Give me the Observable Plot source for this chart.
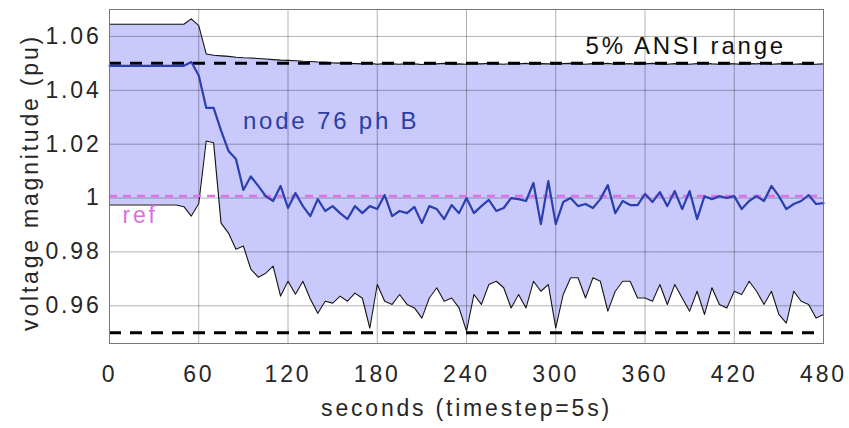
<!DOCTYPE html>
<html><head><meta charset="utf-8">
<script src="https://cdn.jsdelivr.net/npm/d3@7"></script>
<script src="https://cdn.jsdelivr.net/npm/@observablehq/plot@0.6"></script>
<style>
html,body{margin:0;padding:0;background:#fff;}
#chart svg text{letter-spacing:2.8px;}
</style></head><body><div id="chart"></div>
<script>
const stepSeconds = 5;
// one row per minute (12 samples of 5 s), final value at t = 480 s
const upper = [
  1.0645,1.0645,1.0645,1.0645,1.0645,1.0645,1.0645,1.0645,1.0645,1.0645,1.0645,1.0665,
  1.0640,1.0535,1.0530,1.0528,1.0526,1.0523,1.0521,1.0520,1.0518,1.0516,1.0514,1.0512,
  1.0511,1.0510,1.0508,1.0507,1.0505,1.0504,1.0502,1.0501,1.0500,1.0499,1.0498,1.0500,
  1.0497,1.0499,1.0498,1.0497,1.0499,1.0498,1.0496,1.0499,1.0498,1.0500,1.0497,1.0498,
  1.0497,1.0499,1.0498,1.0500,1.0498,1.0497,1.0499,1.0498,1.0500,1.0497,1.0499,1.0498,
  1.0497,1.0499,1.0500,1.0498,1.0497,1.0499,1.0498,1.0500,1.0497,1.0498,1.0499,1.0497,
  1.0498,1.0500,1.0498,1.0497,1.0499,1.0498,1.0497,1.0499,1.0500,1.0498,1.0497,1.0499,
  1.0498,1.0497,1.0499,1.0498,1.0500,1.0497,1.0498,1.0499,1.0497,1.0498,1.0496,1.0497,
  1.0498
];
const lower = [
  0.9974,0.9974,0.9974,0.9974,0.9974,0.9974,0.9974,0.9974,0.9974,0.9974,0.9968,0.9933,
  0.9980,1.0212,1.0205,0.9907,0.9870,0.9810,0.9822,0.9736,0.9706,0.9721,0.9747,0.9636,
  0.9691,0.9643,0.9691,0.9625,0.9572,0.9617,0.9610,0.9636,0.9617,0.9647,0.9628,0.9517,
  0.9679,0.9617,0.9605,0.9642,0.9605,0.9592,0.9554,0.9629,0.9667,0.9617,0.9629,0.9592,
  0.9506,0.9642,0.9605,0.9679,0.9691,0.9667,0.9592,0.9642,0.9592,0.9691,0.9654,0.9679,
  0.9518,0.9642,0.9704,0.9704,0.9629,0.9704,0.9691,0.9580,0.9654,0.9691,0.9691,0.9629,
  0.9629,0.9617,0.9679,0.9605,0.9679,0.9629,0.9580,0.9654,0.9568,0.9667,0.9605,0.9592,
  0.9654,0.9642,0.9691,0.9654,0.9605,0.9654,0.9568,0.9536,0.9654,0.9617,0.9605,0.9555,
  0.9568
];
const node76phB = [
  1.0491,1.0491,1.0491,1.0491,1.0491,1.0491,1.0491,1.0491,1.0491,1.0491,1.0491,1.0505,
  1.0455,1.0335,1.0335,1.0250,1.0175,1.0145,1.0030,1.0080,1.0045,1.0007,0.9989,1.0045,
  0.9963,1.0019,0.9970,0.9933,0.9996,0.9952,0.9970,0.9944,0.9922,0.9970,0.9944,0.9970,
  0.9959,1.0011,0.9933,0.9952,0.9944,0.9967,0.9907,0.9970,0.9959,0.9922,0.9974,0.9944,
  1.0000,0.9944,0.9970,0.9993,0.9952,0.9963,1.0000,0.9996,0.9989,1.0056,0.9903,1.0063,
  0.9903,0.9985,1.0000,0.9970,0.9978,0.9963,0.9996,1.0048,0.9944,0.9989,0.9974,0.9974,
  1.0015,0.9985,1.0022,0.9970,1.0026,0.9959,1.0026,0.9922,1.0007,0.9996,1.0007,1.0000,
  1.0007,0.9959,0.9989,1.0007,0.9989,1.0045,1.0007,0.9959,0.9978,0.9989,1.0011,0.9978,
  0.9981
];
const xTicks = [0, 60, 120, 180, 240, 300, 360, 420, 480];
const yTicks = [0.96, 0.98, 1.00, 1.02, 1.04, 1.06];
const ansiLimits = [0.95, 1.05];
const refLevel = [1.0008];

const seconds = upper.map((_, i) => i * stepSeconds);
const data = seconds.map((t, i) => ({t, hi: upper[i], lo: lower[i], v: node76phB[i]}));

const chart = Plot.plot({
  width: 849, height: 428,
  marginLeft: 109, marginRight: 26, marginTop: 9, marginBottom: 85,
  style: {fontFamily: "'Liberation Sans', Arial, sans-serif", fontSize: "23px", color: "#262626", background: "#fff", overflow: "visible"},
  x: {domain: [0, 480]},
  y: {domain: [0.946, 1.07]},
  marks: [
    Plot.areaY(data, {x: "t", y1: "lo", y2: "hi", fill: "#c9c9fb"}),
    Plot.gridX(xTicks.slice(1, -1), {stroke: "#000", strokeOpacity: 0.3}),
    Plot.gridY(yTicks, {stroke: "#000", strokeOpacity: 0.3}),
    Plot.lineY(data, {x: "t", y: "hi", stroke: "#151515", strokeWidth: 1.1}),
    Plot.lineY(data, {x: "t", y: "lo", stroke: "#151515", strokeWidth: 1.1}),
    Plot.ruleY(ansiLimits, {stroke: "#000", strokeWidth: 3, strokeDasharray: "12,9"}),
    Plot.ruleY(refLevel, {stroke: "#e070e8", strokeWidth: 2.5, strokeDasharray: "8,6"}),
    Plot.lineY(data, {x: "t", y: "v", stroke: "#2a40b0", strokeWidth: 2.2}),
    Plot.axisX({ticks: xTicks, tickSize: 0, tickPadding: 22, label: null, fill: "#262626"}),
    Plot.axisY({ticks: yTicks, tickSize: 0, tickPadding: 8, label: null, fill: "#262626",
      tickFormat: d => String(+d.toFixed(2))}),
    Plot.text(["voltage magnitude (pu)"], {frameAnchor: "left", dx: -79, dy: 6, rotate: -90, textAnchor: "middle", lineAnchor: "middle", fontSize: 23, fill: "#262626"}),
    Plot.text(["seconds (timestep=5s)"], {frameAnchor: "bottom", dy: 65, textAnchor: "middle", lineAnchor: "middle", fontSize: 23, fill: "#262626"}),
    Plot.text(["node 76 ph B"], {x: 89.7, y: 1.0285, textAnchor: "start", fontSize: 24, fill: "#2b3fa6"}),
    Plot.text(["ref"], {x: 8.7, y: 0.9935, textAnchor: "start", fontSize: 23, fill: "#d870e0"}),
    Plot.text(["5% ANSI range"], {x: 320, y: 1.0563, textAnchor: "start", fontSize: 24, fill: "#111"}),
    Plot.frame({stroke: "#777"})
  ]
});
document.getElementById("chart").append(chart);
</script>
</body></html>
